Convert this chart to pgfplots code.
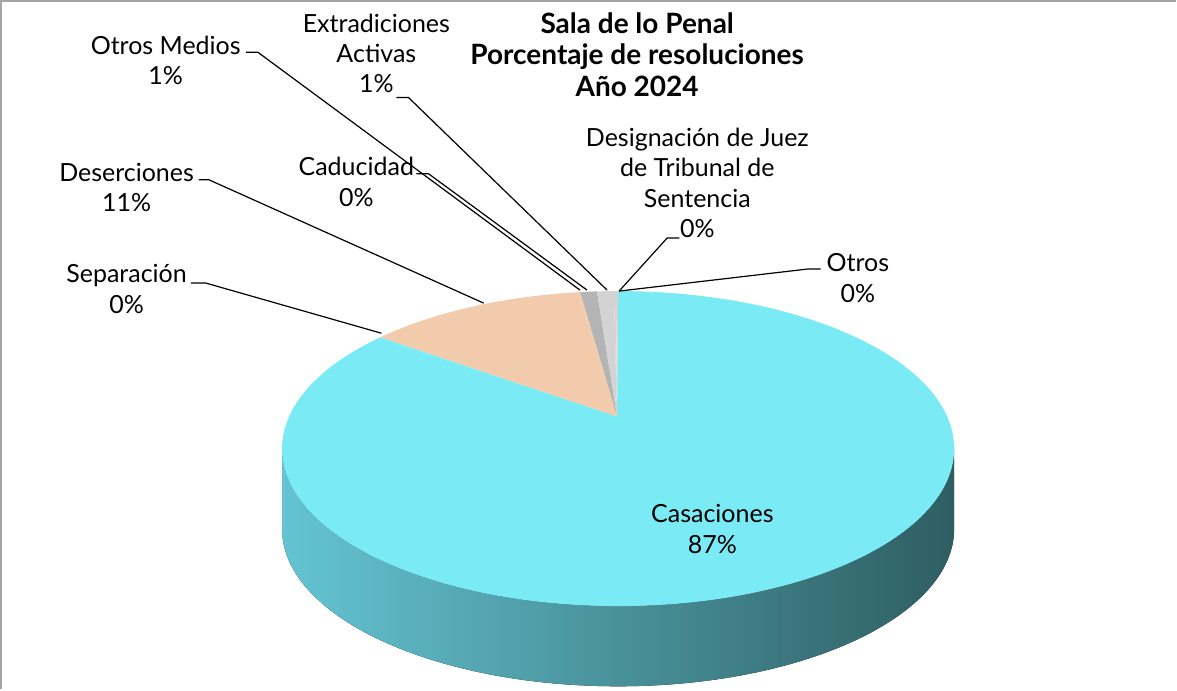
\documentclass[border=0pt]{standalone}
\usepackage{pgfplots}
\pgfplotsset{compat=1.18}
\usepackage{fontspec}
\setmainfont{Lato}
\definecolor{casc}{RGB}{122,234,245}
\definecolor{deser}{RGB}{242,203,172}
\definecolor{dgray}{RGB}{180,180,180}
\definecolor{lgray}{RGB}{211,211,211}
\definecolor{wallL}{RGB}{100,196,210}
\definecolor{wallM}{RGB}{72,146,156}
\definecolor{wallR}{RGB}{46,94,98}
\definecolor{frame}{RGB}{165,165,165}
\begin{document}
\begin{tikzpicture}
% porcentajes (Sala de lo Penal, 2024)
\def\vCas{87.4}% Casaciones
\def\vSep{0.1}% Separacion
\def\vDes{10.6}% Deserciones
\def\vCad{0.1}% Caducidad
\def\vOM{0.8}% Otros Medios
\def\vEA{0.8}% Extradiciones Activas
\def\vDJ{0.1}% Designacion de Juez
\def\vOt{0.1}% Otros
\pgfmathsetmacro\aA{90}
\pgfmathsetmacro\aB{\aA-3.6*\vCas}
\pgfmathsetmacro\aC{\aB-3.6*\vSep}
\pgfmathsetmacro\aD{\aC-3.6*\vDes}
\pgfmathsetmacro\aE{\aD-3.6*\vCad}
\pgfmathsetmacro\aF{\aE-3.6*\vOM}
\pgfmathsetmacro\aG{\aF-3.6*\vEA}
\pgfmathsetmacro\aH{\aG-3.6*\vDJ}
\pgfmathsetmacro\aI{\aH-3.6*\vOt}
\newcommand\slice[3]{\fill[#3] (axis cs:620,272) -- (axis cs:{621+335*cos(#1)},{240+157*sin(#1)}) arc[start angle=#1,end angle=#2,x radius=167.5bp,y radius=78.5bp] -- cycle;}
\begin{axis}[scale only axis, width=588.5bp, height=346bp,
  xmin=0, xmax=1177, ymin=0, ymax=692, enlargelimits=false,
  hide axis, clip=false]
% side wall
\fill[left color=wallL, middle color=wallM, right color=wallR]
  (axis cs:286,240) arc[start angle=180,end angle=360,x radius=167.5bp,y radius=78.5bp]
  -- ++(0,-40bp) arc[start angle=0,end angle=-180,x radius=167.5bp,y radius=78.5bp] -- cycle;
% top face
\slice{\aA}{\aB}{casc}
\slice{\aB}{\aC}{casc}
\slice{\aC}{\aD}{deser}
\slice{\aD}{\aE}{deser}
\slice{\aE}{\aF}{dgray}
\slice{\aF}{\aG}{lgray}
\slice{\aG}{\aH}{lgray}
\slice{\aH}{\aI}{lgray}
% frame
\draw[frame, line width=1.2bp] (axis cs:6,0) -- (axis cs:6,686) -- (axis cs:1177,686);
% leader lines
\draw[black, line width=0.6bp] (axis cs:250,635) -- (axis cs:262,635) -- (axis cs:583,398);
\draw[black, line width=0.6bp] (axis cs:203,508) -- (axis cs:213,508) -- (axis cs:487,385);
\draw[black, line width=0.6bp] (axis cs:195,405) -- (axis cs:210,405) -- (axis cs:385,355);
\draw[black, line width=0.6bp] (axis cs:420,514) -- (axis cs:432,514) -- (axis cs:590,398);
\draw[black, line width=0.6bp] (axis cs:400,590) -- (axis cs:412,590) -- (axis cs:610,398);
\draw[black, line width=0.6bp] (axis cs:682,450) -- (axis cs:670,450) -- (axis cs:622,397);
\draw[black, line width=0.6bp] (axis cs:823,419) -- (axis cs:810,419) -- (axis cs:622,397);
% labels
\tikzset{lbl/.style={align=center, font=\fontsize{12.5}{15.2}\selectfont, inner sep=0pt}}
\node[lbl, font=\fontsize{14}{15.8}\selectfont\bfseries] at (axis cs:640,633) {Sala de lo Penal\\Porcentaje de resoluciones\\Año 2024};
\node[lbl] at (axis cs:170,627) {Otros Medios\\1\%};
\node[lbl] at (axis cs:131,500) {Deserciones\\11\%};
\node[lbl] at (axis cs:131,399) {Separación\\0\%};
\node[lbl] at (axis cs:360,506) {Caducidad\\0\%};
\node[lbl] at (axis cs:380,634) {Extradiciones\\Activas\\1\%};
\node[lbl] at (axis cs:700,505) {Designación de Juez\\de Tribunal de\\Sentencia\\0\%};
\node[lbl] at (axis cs:860,410) {Otros\\0\%};
\node[lbl] at (axis cs:715,160) {Casaciones\\87\%};
\end{axis}
\end{tikzpicture}
\end{document}
